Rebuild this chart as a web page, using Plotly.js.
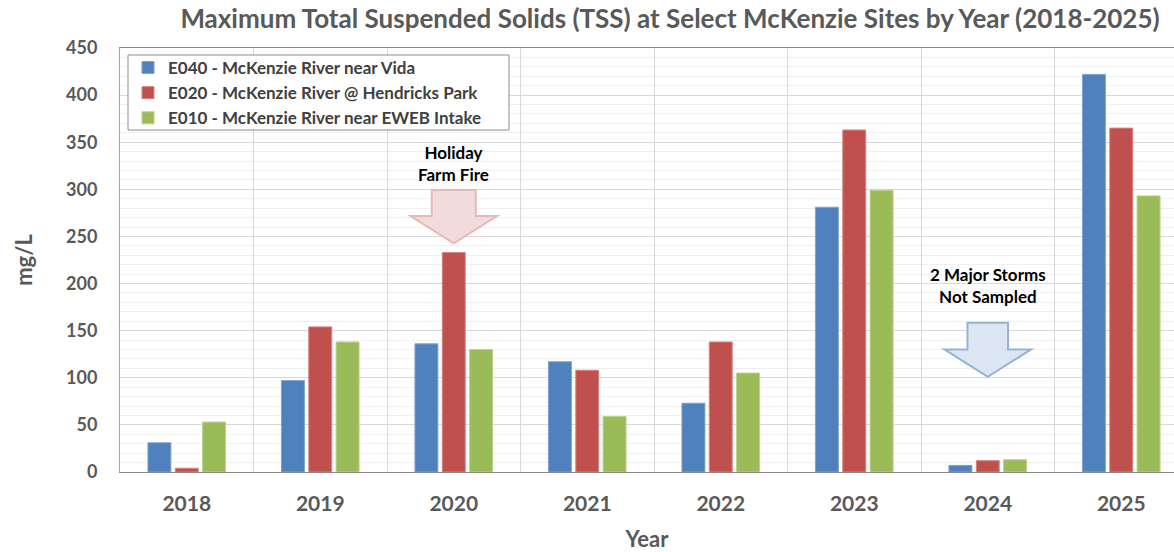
<!DOCTYPE html>
<html>
<head>
<meta charset="utf-8">
<script src="https://cdn.plot.ly/plotly-3.0.1.min.js"></script>
<style>html,body{margin:0;padding:0;background:#fff;}#chart{width:1174px;height:552px;}</style>
</head>
<body>
<div id="chart"></div>
<script>
// ---- data ----
const years = ['2018', '2019', '2020', '2021', '2022', '2023', '2024', '2025'];
const e040Vida = [31, 97, 136, 117, 73, 281, 7, 422];
const e020Hendricks = [4, 154, 233, 108, 138, 363, 12, 365];
const e010Eweb = [53, 138, 130, 59, 105, 299, 13, 293];
const seriesNames = [
  'E040 - McKenzie River near Vida',
  'E020 - McKenzie River @ Hendricks Park',
  'E010 - McKenzie River near EWEB Intake'
];
const yTicks = [0, 50, 100, 150, 200, 250, 300, 350, 400, 450];
const noteFire = 'Holiday<br>Farm Fire';
const noteStorms = '2 Major Storms<br>Not Sampled';

// ---- styles ----
const FONT = 'Lato, "Open Sans", "DejaVu Sans", sans-serif';
const fills = ['#4F81BD', '#C0504D', '#9BBB59'];
const edges = ['#7EA3D2', '#D68583', '#B9D18C'];

// plot geometry (pixels)
const W = 1174, H = 552, L = 120, R = 0, T = 48, B = 80;
const PW = W - L - R, PH = H - T - B;
const CAT_PX = 133.5;
const NCAT_VIS = PW / CAT_PX;
const xMax = -0.5 + NCAT_VIS;
const yMax = 450;

const seriesVals = [e040Vida, e020Hendricks, e010Eweb];
const traces = seriesVals.map((vals, i) => ({
  type: 'bar',
  x: years,
  y: vals,
  name: seriesNames[i],
  legendgroup: 'g' + i,
  marker: { color: fills[i], line: { color: edges[i], width: 1 } },
  hoverinfo: 'x+y+name'
}));

const catPaper = (idx) => (idx + 0.5) / NCAT_VIS;
const pxX = (px) => (px - L) / PW;          // page px -> paper x
const pxY = (py) => (H - B - py) / PH;      // page px -> paper y

// down arrow helper: category index, tip value (data), sizes in px
function downArrow(catIdx, tipVal, headH, headHalf, shaftHalf, shaftH, fill, line) {
  const cx = catPaper(catIdx);
  const tip = tipVal / yMax;
  const base = tip + headH / PH;
  const top = base + shaftH / PH;
  const hw = headHalf / PW, sw = shaftHalf / PW;
  const p = (x, y) => x.toFixed(5) + ',' + y.toFixed(5);
  const path = 'M' + p(cx - sw, top) + ' L' + p(cx + sw, top) + ' L' + p(cx + sw, base) +
    ' L' + p(cx + hw, base) + ' L' + p(cx, tip) + ' L' + p(cx - hw, base) +
    ' L' + p(cx - sw, base) + ' Z';
  return { type: 'path', xref: 'paper', yref: 'paper', path: path,
    fillcolor: fill, line: { color: line, width: 2 }, layer: 'above' };
}

const noteFont = { family: FONT, size: 17, color: '#000000', weight: 'bold' };

const layout = {
  width: W, height: H,
  margin: { l: L, r: R, t: T, b: B, pad: 0 },
  paper_bgcolor: '#ffffff',
  plot_bgcolor: '#ffffff',
  font: { family: FONT, color: '#595959', weight: 'bold' },
  title: {
    text: 'Maximum Total Suspended Solids (TSS) at Select McKenzie Sites by Year (2018-2025)',
    font: { family: FONT, size: 26, color: '#595959', weight: 'bold' },
    xref: 'container', x: 670 / W, xanchor: 'center',
    yref: 'container', y: 1 - 19 / H, yanchor: 'middle'
  },
  barmode: 'group',
  bargap: 0.386,
  bargroupgap: 0.16,
  showlegend: true,
  legend: {
    x: pxX(128), y: pxY(50), xanchor: 'left', yanchor: 'top',
    bgcolor: 'rgba(0,0,0,0)', borderwidth: 0,
    font: { family: FONT, size: 17, color: '#404040', weight: 'bold' },
    tracegroupgap: 3, traceorder: 'normal'
  },
  xaxis: {
    type: 'category',
    range: [-0.5, xMax],
    tickson: 'boundaries',
    showgrid: true, gridcolor: '#d9d9d9', gridwidth: 1,
    showline: true, linecolor: '#8c8c8c', linewidth: 1, mirror: true,
    ticks: '', ticklabelstandoff: 13,
    tickfont: { family: FONT, size: 21, color: '#595959', weight: 'bold' },
    title: { text: 'Year', font: { family: FONT, size: 22, color: '#595959', weight: 'bold' }, standoff: 20 },
    automargin: false, fixedrange: true
  },
  yaxis: {
    range: [0, yMax],
    tickvals: yTicks,
    showgrid: true, gridcolor: '#d9d9d9', gridwidth: 1,
    minor: { dtick: 10, showgrid: true, gridcolor: '#f0f0f0', gridwidth: 1, ticks: '' },
    zeroline: false,
    showline: true, linecolor: '#a6a6a6', linewidth: 1,
    ticks: 'outside', ticklen: 18, tickcolor: 'rgba(0,0,0,0)',
    tickfont: { family: FONT, size: 18, color: '#595959', weight: 'bold' },
    title: { text: 'mg/L', font: { family: FONT, size: 22, color: '#595959', weight: 'bold' }, standoff: 27 },
    automargin: false, fixedrange: true
  },
  shapes: [
    { type: 'rect', xref: 'paper', yref: 'paper', x0: pxX(128), x1: pxX(509), y0: pxY(130), y1: pxY(55),
      fillcolor: '#ffffff', line: { color: '#8c8c8c', width: 1 }, layer: 'above' },
    downArrow(2, 242.7, 27.3, 43.3, 22, 26, '#F2DCDB', '#E6B9B8'),
    downArrow(6, 101, 27.4, 43.3, 20.3, 26.6, '#DCE6F2', '#95B3D7')
  ],
  annotations: [
    { xref: 'paper', yref: 'paper', x: catPaper(2), y: 327 / yMax, xanchor: 'center', yanchor: 'middle',
      text: noteFire, showarrow: false, font: noteFont, align: 'center' },
    { xref: 'paper', yref: 'paper', x: catPaper(6), y: 198 / yMax, xanchor: 'center', yanchor: 'middle',
      text: noteStorms, showarrow: false, font: noteFont, align: 'center' }
  ]
};

Plotly.newPlot('chart', traces, layout, { staticPlot: true, displayModeBar: false });
</script>
</body>
</html>
